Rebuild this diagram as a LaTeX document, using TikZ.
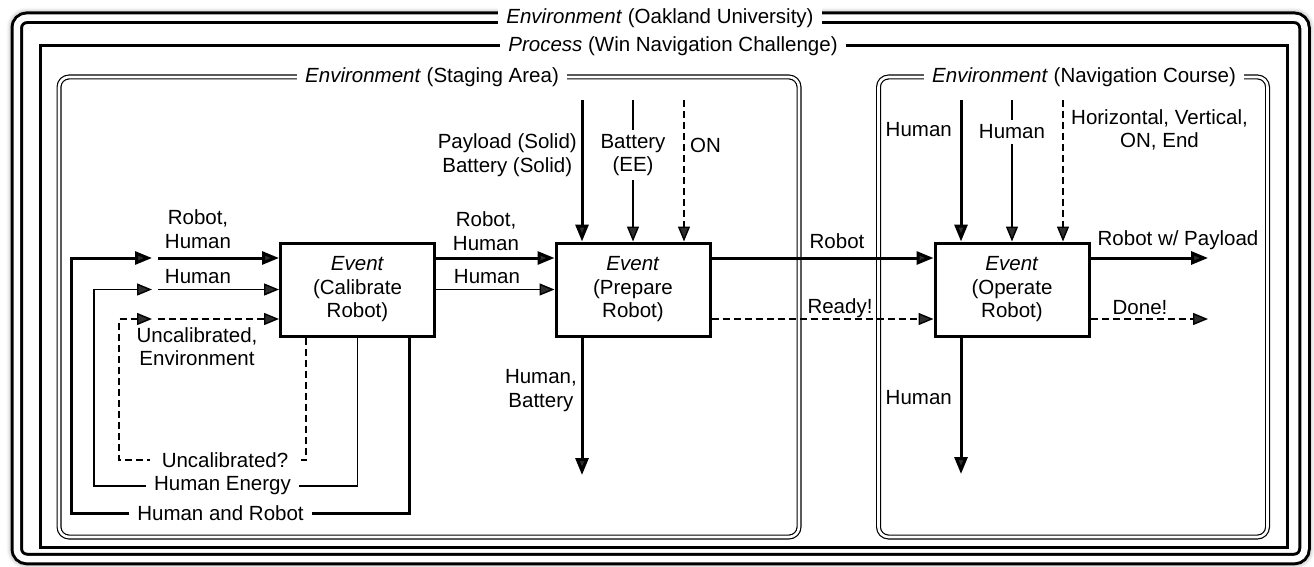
\documentclass[tikz,border=0pt]{standalone}
\usepackage{fontspec}
\setmainfont{Liberation Sans}
\usetikzlibrary{arrows.meta,shadows.blur}
\begin{document}
\begin{tikzpicture}[x=1pt,y=-1pt,
  every node/.style={font=\fontsize{20.5}{23.5}\selectfont, inner sep=0pt},
  evbox/.style={draw, line width=3pt, minimum width=154pt, minimum height=93pt, align=center},
  thickln/.style={line width=3pt},
  thinln/.style={line width=1.4pt},
  dashln/.style={line width=1.4pt, dash pattern=on 7pt off 4pt},
  bigtip/.style={-{Triangle[length=17pt,width=13pt]}},
  smalltip/.style={-{Triangle[length=15pt,width=12pt]}},
  lbl/.style={align=center},
  cut/.style={fill=white, inner xsep=8pt, inner ysep=3pt, align=center},
  envframe/.style={line width=3pt, double=white, double distance=6.5pt, rounded corners=10pt},
  subframe/.style={line width=1.2pt, double=white, double distance=2.6pt, rounded corners=10pt},
]
\useasboundingbox (0,0) rectangle (1314,567);

% outer environment with shadow
\fill[white, rounded corners=16pt, blur shadow={shadow xshift=0pt, shadow yshift=0pt, shadow blur radius=4pt, shadow opacity=35}] (10.5,11.5) rectangle (1310.75,565.25);
\draw[envframe] (16.75,17.75) rectangle (1304.5,559);
\draw[line width=3pt] (40,46) rectangle (1287,547);
\draw[subframe] (59,77) rectangle (799,537);
\draw[subframe] (878.5,77) rectangle (1267.5,537);

\node[cut] (t1) at (660,17.75) {\textit{Environment} (Oakland University)};
\node[cut] (t2) at (673,46) {\textit{Process} (Win Navigation Challenge)};
\node[cut, anchor=west] (t3) at (297,77) {\textit{Environment} (Staging Area)};
\node[cut, anchor=west] (t4) at (924,77) {\textit{Environment} (Navigation Course)};

% event boxes
\node[evbox] (cal) at (357.5,289.5) {\textit{Event}\\(Calibrate\\Robot)};
\node[evbox] (prep) at (633,289.5) {\textit{Event}\\(Prepare\\Robot)};
\node[evbox] (oper) at (1012,289.5) {\textit{Event}\\(Operate\\Robot)};

% coordinates
\coordinate (lA) at (152,258);
\coordinate (lB) at (152,289.5);
\coordinate (lC) at (152,319);
\coordinate (sA) at (158,258);
\coordinate (sB) at (158,289.5);
\coordinate (sC) at (158,319);
\coordinate (pa) at (582,100);
\coordinate (pb) at (633,100);
\coordinate (pc) at (684,100);
\coordinate (po) at (582,475);
\coordinate (oa) at (961,100);
\coordinate (ob) at (1012,100);
\coordinate (oc) at (1063,100);
\coordinate (oo) at (961,474);
\coordinate (ra) at (1208,258);
\coordinate (rc) at (1208,319);

% feedback loops
\draw[thickln,bigtip] ([xshift=51.5pt]cal.south) |- (71,513) |- (lA);
\draw[thinln,smalltip] (cal.south) |- (94,486) |- (lB);
\draw[dashln,smalltip] ([xshift=-51.5pt]cal.south) |- (119,460) |- (lC);

% inputs to calibrate
\draw[thickln,bigtip] (sA) -- (sA -| cal.west);
\draw[thinln,smalltip] (sB) -- (sB -| cal.west);
\draw[dashln,smalltip] (sC) -- (sC -| cal.west);

% calibrate -> prepare
\draw[thickln,bigtip] ([yshift=31.5pt]cal.east) -- ([yshift=31.5pt]prep.west);
\draw[thinln,smalltip] (cal.east) -- (prep.west);

% prepare top / bottom
\draw[thickln,bigtip] (pa) -- ([xshift=-51pt]prep.north);
\draw[thinln,smalltip] (pb) -- (prep.north);
\draw[dashln,smalltip] (pc) -- ([xshift=51pt]prep.north);
\draw[thickln,bigtip] ([xshift=-51pt]prep.south) -- (po);

% prepare -> operate
\draw[thickln,bigtip] ([yshift=31.5pt]prep.east) -- ([yshift=31.5pt]oper.west);
\draw[dashln,smalltip] ([yshift=-29.5pt]prep.east) -- ([yshift=-29.5pt]oper.west);

% operate top / bottom / right
\draw[thickln,bigtip] (oa) -- ([xshift=-51pt]oper.north);
\draw[thinln,smalltip] (ob) -- (oper.north);
\draw[dashln,smalltip] (oc) -- ([xshift=51pt]oper.north);
\draw[thickln,bigtip] ([xshift=-51pt]oper.south) -- (oo);
\draw[thickln,bigtip] ([yshift=31.5pt]oper.east) -- (ra);
\draw[dashln,smalltip] ([yshift=-29.5pt]oper.east) -- (rc);

% labels
\node[cut] (lhr) at (220.5,513) {Human and Robot};
\node[cut] (lhe) at (222.5,486) {Human Energy};
\node[cut, inner xsep=12pt] (luc) at (225,460) {Uncalibrated?};

\node[lbl] (l1) at (198,229) {Robot,\\Human};
\node[lbl] (l2) at (198,276.5) {Human};
\node[lbl] (l3) at (197,346.5) {Uncalibrated,\\Environment};

\node[lbl] (l4) at (486,231) {Robot,\\Human};
\node[lbl] (l5) at (487,276.5) {Human};

\node[lbl, anchor=east] (l6) at (577,155) {Payload (Solid)\\Battery (Solid)};
\node[cut, inner xsep=2pt, inner ysep=4pt] (l7) at (633,155) {Battery\\(EE)};
\node[lbl, anchor=west] (l8) at (690,145) {ON};
\node[lbl, anchor=east] (l9) at (577,390.5) {Human,\\Battery};

\node[lbl] (l10) at (837,241) {Robot};
\node[lbl] (l11) at (840,308) {Ready!};

\node[lbl, anchor=east] (l12) at (952,130) {Human};
\node[cut, inner xsep=2pt, inner ysep=5pt] (l13) at (1012,132) {Human};
\node[lbl, anchor=west] (l14) at (1071,130) {Horizontal, Vertical,\\ON, End};
\node[lbl, anchor=east] (l15) at (952,398) {Human};
\node[lbl] (l16) at (1178,240) {Robot w/ Payload};
\node[lbl] (l17) at (1140,308) {Done!};
\end{tikzpicture}
\end{document}
